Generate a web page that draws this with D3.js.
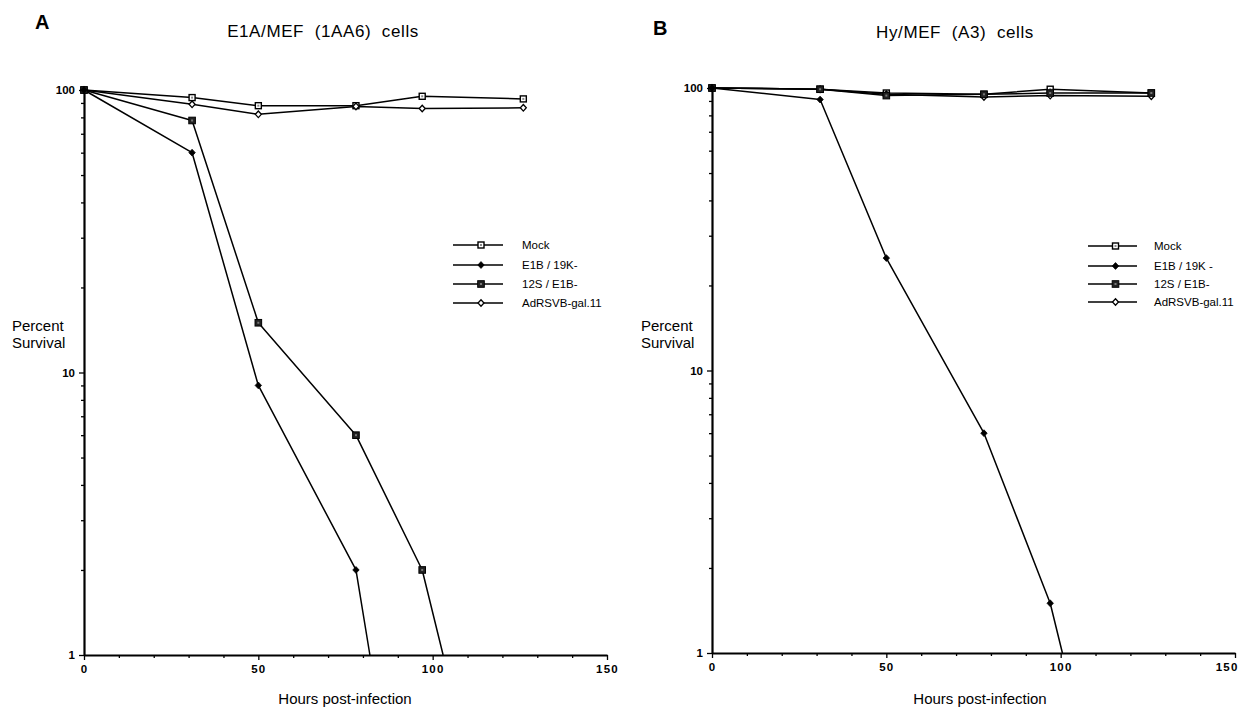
<!DOCTYPE html>
<html><head><meta charset="utf-8">
<script src="https://cdn.jsdelivr.net/npm/d3@7"></script>
<style>
body{margin:0;background:#fff}
svg{display:block}
text{font-family:"Liberation Sans",Arial,Helvetica,sans-serif;fill:#000}
</style></head><body>
<svg id="c" width="1239" height="709"></svg>
<script>
// ---------- data ----------
const seriesNames = ["Mock","E1B / 19K-","12S / E1B-","AdRSVB-gal.11"];
const legendNamesB = ["Mock","E1B / 19K -","12S / E1B-","AdRSVB-gal.11"];
const markerTypes = ["openSquare","dot","filledSquare","openDiamond"];

// Panel A: E1A/MEF (1AA6) cells
const hoursA = [0,31,50,78,97,126];
const mockA = [100,94,88,88,95,93];
const e1bHoursA = [0,31,50,78,82];
const e1bA = [100,60,9,2,1];
const s12HoursA = [0,31,50,78,97,103];
const s12A = [100,78,15,6,2,1];
const adA = [100,89,82,87.5,86,86.5];

// Panel B: Hy/MEF (A3) cells
const hoursB = [0,31,50,78,97,126];
const mockB = [100,99,96,95,99,96];
const e1bHoursB = [0,31,50,78,97,100.5];
const e1bB = [100,91,25,6,1.5,1];
const s12B = [100,99,94,95,96,96];
const adB = [100,99,95,93,94,93.5];

const xTicks = [0,50,100,150];
const xMinor = [10,20,30,40,60,70,80,90,110,120,130,140];
const yTicks = [1,10,100];
const yMinor = [2,3,4,5,6,7,8,9,20,30,40,50,60,70,80,90];

const titles = ["E1A/MEF  (1AA6)  cells","Hy/MEF  (A3)  cells"];
const panelLetters = ["A","B"];
const yLabel = ["Percent","Survival"];
const xLabel = "Hours post-infection";

// ---------- drawing ----------
const svg = d3.select("#c");

const panels = [
  {letter:panelLetters[0], letterPos:[35,29], title:titles[0], titleX:323, titleY:37,
   xr:[84,607], yr:[655,90], legendNames:seriesNames, legend:{x0:453,x1:503,tx:522,ys:[245,265,284,303]},
   ylab:{x:12,y:[331,348]}, xlabX:345,
   series:[
     {h:hoursA, v:mockA, m:0},
     {h:hoursA, v:adA, m:3},
     {h:s12HoursA, v:s12A, m:2},
     {h:e1bHoursA, v:e1bA, m:1}
   ]},
  {letter:panelLetters[1], letterPos:[653,35], title:titles[1], titleX:955, titleY:38,
   xr:[712,1235], yr:[653,88], legendNames:legendNamesB, legend:{x0:1088,x1:1137,tx:1154,ys:[246,266,284,302]},
   ylab:{x:641,y:[331,348]}, xlabX:980,
   series:[
     {h:hoursB, v:mockB, m:0},
     {h:hoursB, v:adB, m:3},
     {h:hoursB, v:s12B, m:2},
     {h:e1bHoursB, v:e1bB, m:1}
   ]}
];

function drawMarker(g, type, cx, cy){
  if(type==="openSquare"){
    g.append("rect").attr("x",cx-3).attr("y",cy-3).attr("width",6).attr("height",6)
      .attr("fill","#fff").attr("stroke","#000").attr("stroke-width",1.4);
    g.append("rect").attr("x",cx-1).attr("y",cy-1).attr("width",2).attr("height",2).attr("fill","#888");
  } else if(type==="filledSquare"){
    g.append("rect").attr("x",cx-3.3).attr("y",cy-3.3).attr("width",6.6).attr("height",6.6)
      .attr("fill","#222").attr("stroke","#000").attr("stroke-width",1);
    g.append("rect").attr("x",cx-1).attr("y",cy-1).attr("width",2).attr("height",2).attr("fill","#777");
  } else if(type==="dot"){
    g.append("path").attr("d",`M${cx},${cy-3.4}L${cx+3.2},${cy}L${cx},${cy+3.4}L${cx-3.2},${cy}Z`)
      .attr("fill","#000").attr("stroke","#000").attr("stroke-width",0.8);
  } else {
    g.append("path").attr("d",`M${cx},${cy-3.3}L${cx+3},${cy}L${cx},${cy+3.3}L${cx-3},${cy}Z`)
      .attr("fill","#fff").attr("stroke","#000").attr("stroke-width",1.3);
  }
}

panels.forEach((p,pi)=>{
  const x = d3.scaleLinear().domain([0,150]).range(p.xr);
  const y = d3.scaleLog().domain([1,100]).range(p.yr);
  const g = svg.append("g");

  // letter & title
  g.append("text").attr("x",p.letterPos[0]).attr("y",p.letterPos[1])
    .attr("font-size",20).attr("font-weight","bold").text(p.letter);
  g.append("text").attr("x",p.titleX).attr("y",p.titleY).attr("text-anchor","middle")
    .attr("font-size",17).attr("letter-spacing",0.6).style("white-space","pre").text(p.title);

  // axes
  const yAxis = d3.axisLeft(y).tickValues(yTicks).tickFormat(d3.format("d")).tickSize(5).tickSizeOuter(0).tickPadding(4);
  const yAxisMinor = d3.axisLeft(y).tickValues(yMinor).tickFormat("").tickSize(3).tickSizeOuter(0);
  const xAxis = d3.axisBottom(x).tickValues(xTicks).tickFormat(d3.format("d")).tickSize(5).tickSizeOuter(0).tickPadding(5);
  const xAxisMinor = d3.axisBottom(x).tickValues(xMinor).tickFormat("").tickSize(3).tickSizeOuter(0);

  const gy = g.append("g").attr("transform",`translate(${p.xr[0]},0)`).call(yAxis);
  g.append("g").attr("transform",`translate(${p.xr[0]},0)`).call(yAxisMinor).select(".domain").remove();
  const gx = g.append("g").attr("transform",`translate(0,${p.yr[0]})`).call(xAxis);
  g.append("g").attr("transform",`translate(0,${p.yr[0]})`).call(xAxisMinor).select(".domain").remove();

  g.selectAll(".domain").attr("stroke","#000").attr("stroke-width",2.2);
  g.selectAll(".tick line").attr("stroke","#000").attr("stroke-width",1.3);
  gy.selectAll(".tick text").attr("font-size",11.5).attr("font-weight","bold").attr("fill","#000")
    .style("font-family","'Liberation Sans',Arial,sans-serif");
  gx.selectAll(".tick text").attr("font-size",11.5).attr("font-weight","bold").attr("fill","#000")
    .attr("letter-spacing",1.2).style("font-family","'Liberation Sans',Arial,sans-serif");
  // keep the last tick label of the right panel inside the page
  if(pi===1){
    gx.selectAll(".tick text").filter(d=>d===150).attr("text-anchor","end").attr("dx",3);
  }

  // axis labels
  yLabel.forEach((t,i)=>{
    g.append("text").attr("x",p.ylab.x).attr("y",p.ylab.y[i]).attr("font-size",15).text(t);
  });
  g.append("text").attr("x",p.xlabX).attr("y",704).attr("text-anchor","middle").attr("font-size",15).text(xLabel);

  // lines
  const line = d3.line().x(d=>x(d[0])).y(d=>y(d[1]));
  p.series.forEach(s=>{
    const pts = s.h.map((h,i)=>[h,s.v[i]]);
    g.append("path").datum(pts).attr("d",line).attr("fill","none")
      .attr("stroke","#000").attr("stroke-width",1.5).attr("stroke-linejoin","round");
  });
  p.series.forEach(s=>{
    s.h.forEach((h,i)=>{
      if(s.v[i]>1) drawMarker(g, markerTypes[s.m], x(h), y(s.v[i]));
    });
  });

  // legend
  p.legendNames.forEach((name,i)=>{
    const ly = p.legend.ys[i];
    g.append("line").attr("x1",p.legend.x0).attr("x2",p.legend.x1).attr("y1",ly).attr("y2",ly)
      .attr("stroke","#000").attr("stroke-width",1.5);
    drawMarker(g, markerTypes[i], (p.legend.x0+p.legend.x1)/2+3, ly);
    g.append("text").attr("x",p.legend.tx).attr("y",ly+4).attr("font-size",11.5).text(name);
  });
});
</script>
</body></html>
